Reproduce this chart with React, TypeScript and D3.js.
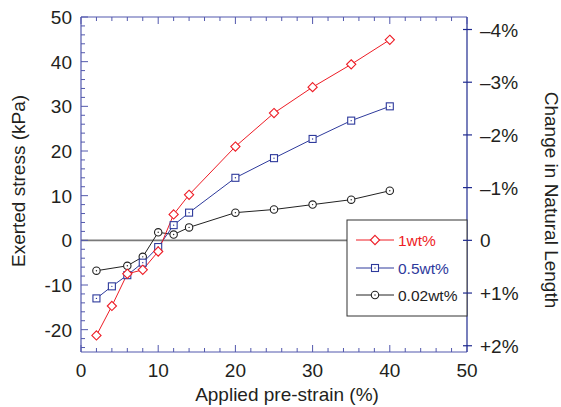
import React from "react";
import * as d3 from "d3";

const strainX = [2, 4, 6, 8, 10, 12, 14, 20, 25, 30, 35, 40];
const stress1wt = [-21.3, -14.7, -7.5, -6.6, -2.5, 5.8, 10.2, 21.0, 28.5, 34.3, 39.4, 44.9];
const stress05wt = [-13.0, -10.3, -7.8, -5.0, -1.5, 3.4, 6.2, 14.0, 18.4, 22.7, 26.8, 30.0];
const strainX002 = [2, 6, 8, 10, 12, 14, 20, 25, 30, 35, 40];
const stress002wt = [-6.8, -5.7, -3.7, 1.8, 1.3, 2.9, 6.2, 6.9, 8.0, 9.1, 11.1];

const xTicks = [0, 10, 20, 30, 40, 50];
const yTicks = [-20, -10, 0, 10, 20, 30, 40, 50];
const rightTicks = [-4, -3, -2, -1, 0, 1, 2];
const rightTickLabels = ["\u20134%", "\u20133%", "\u20132%", "\u20131%", "0", "+1%", "+2%"];
const legendLabels = ["1wt%", "0.5wt%", "0.02wt%"];

const W = 561;
const H = 407;
const L = 81, R = 467, T = 17, B = 352;
const KPA_PER_PCT = 11.8;

const RED = "#ee1c25";
const BLUE = "#2e3a9c";
const BLACK = "#222222";
const AXIS = "#5258ad";
const AXIS_R = "#1f2a8f";
const FONT = "'Liberation Sans', Arial, Helvetica, sans-serif";
const FS = 19;

export default function App() {
  const x = d3.scaleLinear().domain([0, 50]).range([L, R]);
  const y = d3.scaleLinear().domain([-25, 50]).range([B, T]);
  const yR = d3.scaleLinear().domain([25 / KPA_PER_PCT, -50 / KPA_PER_PCT]).range([B, T]);
  const line = d3.line<[number, number]>().x((d) => x(d[0])).y((d) => y(d[1]));

  const minorX = d3.range(0, 51, 2).filter((v) => v % 10 !== 0);
  const minorY = d3.range(-24, 50, 2).filter((v) => v % 10 !== 0);

  const s1 = strainX.map((v, i) => [v, stress1wt[i]] as [number, number]);
  const s05 = strainX.map((v, i) => [v, stress05wt[i]] as [number, number]);
  const s002 = strainX002.map((v, i) => [v, stress002wt[i]] as [number, number]);

  const diamond = (cx: number, cy: number, key: any, color = RED) => (
    <path key={key} d={`M${cx},${cy - 4.6}L${cx + 4.6},${cy}L${cx},${cy + 4.6}L${cx - 4.6},${cy}Z`} fill="white" stroke={color} strokeWidth={1.1} />
  );
  const square = (cx: number, cy: number, key: any) => (
    <g key={key}>
      <rect x={cx - 3.5} y={cy - 3.5} width={7} height={7} fill="white" stroke={BLUE} strokeWidth={1.1} />
      <circle cx={cx} cy={cy} r={0.7} fill={BLUE} />
    </g>
  );
  const circ = (cx: number, cy: number, key: any) => (
    <g key={key}>
      <circle cx={cx} cy={cy} r={3.7} fill="white" stroke={BLACK} strokeWidth={1.1} />
      <circle cx={cx} cy={cy} r={0.7} fill={BLACK} />
    </g>
  );

  const legY = [240, 268, 295];
  const legColors = [RED, BLUE, BLACK];

  return (
    <svg width={W} height={H} style={{ position: "absolute", left: 0, top: 0, background: "white" }} fontFamily={FONT}>
      {/* zero line */}
      <line x1={L} x2={R} y1={y(0)} y2={y(0)} stroke="#7a7a7a" strokeWidth={1.6} />

      {/* series lines */}
      <path d={line(s002) || ""} fill="none" stroke={BLACK} strokeWidth={1} />
      <path d={line(s05) || ""} fill="none" stroke={BLUE} strokeWidth={1} />
      <path d={line(s1) || ""} fill="none" stroke={RED} strokeWidth={1} />

      {s002.map((d, i) => circ(x(d[0]), y(d[1]), "c" + i))}
      {s05.map((d, i) => square(x(d[0]), y(d[1]), "s" + i))}
      {s1.map((d, i) => diamond(x(d[0]), y(d[1]), "d" + i))}

      {/* axes frame */}
      <line x1={L} x2={R} y1={T} y2={T} stroke={AXIS} strokeWidth={1.2} />
      <line x1={L} x2={R} y1={B} y2={B} stroke={AXIS} strokeWidth={1.2} />
      <line x1={L} x2={L} y1={T} y2={B} stroke={AXIS} strokeWidth={1.2} />
      <line x1={R} x2={R} y1={T} y2={B} stroke={AXIS_R} strokeWidth={1.2} />

      {/* x ticks top & bottom */}
      {xTicks.map((v) => (
        <g key={"xt" + v}>
          <line x1={x(v)} x2={x(v)} y1={T} y2={T + 7} stroke={AXIS} strokeWidth={1} />
          <line x1={x(v)} x2={x(v)} y1={B} y2={B - 7} stroke={AXIS} strokeWidth={1} />
          <text x={x(v)} y={377} textAnchor="middle" fontSize={FS} fill="#231f20">{v}</text>
        </g>
      ))}
      {minorX.map((v) => (
        <g key={"xm" + v}>
          <line x1={x(v)} x2={x(v)} y1={T} y2={T + 4} stroke={AXIS} strokeWidth={1} />
          <line x1={x(v)} x2={x(v)} y1={B} y2={B - 4} stroke={AXIS} strokeWidth={1} />
        </g>
      ))}

      {/* y ticks left */}
      {yTicks.map((v) => (
        <g key={"yt" + v}>
          <line x1={L} x2={L + 7} y1={y(v)} y2={y(v)} stroke={AXIS} strokeWidth={1} />
          <text x={72} y={y(v) + 7} textAnchor="end" fontSize={FS} fill="#231f20">{v}</text>
        </g>
      ))}
      {minorY.map((v) => (
        <line key={"ym" + v} x1={L} x2={L + 4} y1={y(v)} y2={y(v)} stroke={AXIS} strokeWidth={1} />
      ))}

      {/* legend */}
      <rect x={347} y={220} width={R - 347} height={96} fill="white" stroke="#333" strokeWidth={1} />
      {legendLabels.map((lab, i) => (
        <g key={"lg" + i}>
          <line x1={356} x2={394} y1={legY[i]} y2={legY[i]} stroke={legColors[i]} strokeWidth={1} />
          {i === 0 ? diamond(375, legY[i], "ld") : i === 1 ? square(375, legY[i], "ls") : circ(375, legY[i], "lc")}
          <text x={398} y={legY[i] + 5.5} fontSize={15.5} fill={legColors[i]}>{lab}</text>
        </g>
      ))}

      {/* right axis ticks */}
      {rightTicks.map((v, i) => (
        <g key={"rt" + v}>
          <line x1={R - 4} x2={R + 5} y1={yR(v)} y2={yR(v)} stroke={AXIS_R} strokeWidth={1.2} />
          <text x={480} y={yR(v) + 7} fontSize={FS} fill="#231f20">{rightTickLabels[i]}</text>
        </g>
      ))}

      {/* titles */}
      <text x={287} y={401} textAnchor="middle" fontSize={FS} fill="#231f20">Applied pre-strain (%)</text>
      <text transform={`translate(25,181) rotate(-90)`} textAnchor="middle" fontSize={FS} fill="#231f20">Exerted stress (kPa)</text>
      <text transform={`translate(545,200) rotate(90)`} textAnchor="middle" fontSize={FS} fill="#231f20">Change in Natural Length</text>
    </svg>
  );
}
